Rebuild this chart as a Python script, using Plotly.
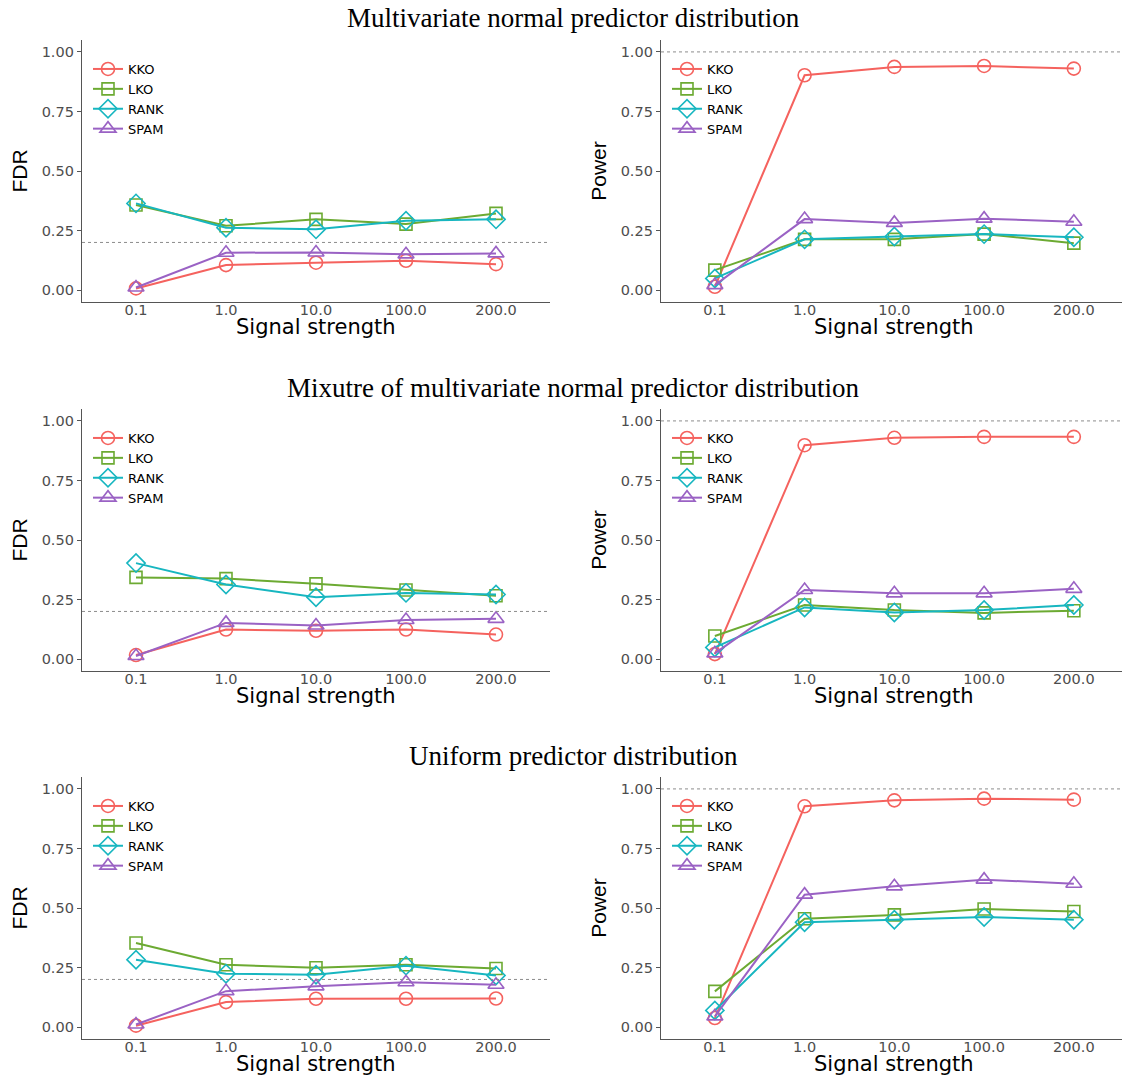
import plotly.graph_objects as go

# ---------------- data ----------------
signal = ["0.1", "1.0", "10.0", "100.0", "200.0"]
methods = ["KKO", "LKO", "RANK", "SPAM"]

# Multivariate normal
normal_fdr_kko = [0.007, 0.105, 0.115, 0.123, 0.109]
normal_fdr_lko = [0.357, 0.270, 0.297, 0.277, 0.322]
normal_fdr_rank = [0.364, 0.262, 0.255, 0.291, 0.297]
normal_fdr_spam = [0.011, 0.157, 0.158, 0.150, 0.154]

normal_pow_kko = [0.014, 0.902, 0.937, 0.941, 0.930]
normal_pow_lko = [0.084, 0.213, 0.213, 0.235, 0.197]
normal_pow_rank = [0.049, 0.213, 0.225, 0.235, 0.222]
normal_pow_spam = [0.021, 0.298, 0.282, 0.300, 0.287]

# Mixture of multivariate normal
mix_fdr_kko = [0.017, 0.124, 0.119, 0.124, 0.103]
mix_fdr_lko = [0.343, 0.338, 0.316, 0.290, 0.266]
mix_fdr_rank = [0.403, 0.313, 0.260, 0.278, 0.271]
mix_fdr_spam = [0.013, 0.152, 0.141, 0.164, 0.169]

mix_pow_kko = [0.021, 0.898, 0.929, 0.933, 0.933]
mix_pow_lko = [0.097, 0.227, 0.206, 0.194, 0.203]
mix_pow_rank = [0.049, 0.217, 0.196, 0.206, 0.227]
mix_pow_spam = [0.024, 0.290, 0.276, 0.276, 0.295]

# Uniform
unif_fdr_kko = [0.006, 0.105, 0.119, 0.119, 0.120]
unif_fdr_lko = [0.353, 0.262, 0.249, 0.262, 0.246]
unif_fdr_rank = [0.283, 0.224, 0.220, 0.258, 0.217]
unif_fdr_spam = [0.011, 0.151, 0.171, 0.188, 0.178]

unif_pow_kko = [0.038, 0.927, 0.952, 0.959, 0.955]
unif_pow_lko = [0.150, 0.455, 0.471, 0.496, 0.485]
unif_pow_rank = [0.070, 0.440, 0.451, 0.462, 0.451]
unif_pow_spam = [0.045, 0.556, 0.591, 0.619, 0.602]

titles = [
    "Multivariate normal predictor distribution",
    "Mixutre of multivariate normal predictor distribution",
    "Uniform predictor distribution",
]
y_titles = ["FDR", "Power"]
x_title = "Signal strength"
fdr_target = 0.2
power_target = 1.0

# ---------------- style ----------------
W, H = 1122, 1076
colors = {"KKO": "#F5625E", "LKO": "#6CAA32", "RANK": "#17B6C0", "SPAM": "#9A62C4"}
symbols = {"KKO": "circle-open", "LKO": "square-open", "RANK": "diamond-open", "SPAM": "triangle-up-open"}
msizes = {"KKO": 13, "LKO": 12, "RANK": 14, "SPAM": 14}

panels = [
    (normal_fdr_kko, normal_fdr_lko, normal_fdr_rank, normal_fdr_spam),
    (normal_pow_kko, normal_pow_lko, normal_pow_rank, normal_pow_spam),
    (mix_fdr_kko, mix_fdr_lko, mix_fdr_rank, mix_fdr_spam),
    (mix_pow_kko, mix_pow_lko, mix_pow_rank, mix_pow_spam),
    (unif_fdr_kko, unif_fdr_lko, unif_fdr_rank, unif_fdr_spam),
    (unif_pow_kko, unif_pow_lko, unif_pow_rank, unif_pow_spam),
]

# pixel geometry (top, bottom) for rows, (left, right) for columns
rows_px = [(40, 302), (409, 671), (777, 1039)]
cols_px = [(82, 550), (661, 1122)]
spacing = [90.0, 89.75]
xtitle_center = [316, 894]

tick_font = dict(family="DejaVu Sans, Liberation Sans, Arial", size=14.5, color="#4D4D4D")
xtitle_font = dict(family="DejaVu Sans, Liberation Sans, Arial", size=21, color="black")
ytitle_font = dict(family="Liberation Sans, Arial", size=21, color="black")
legend_font = dict(family="DejaVu Sans, Liberation Sans, Arial", size=13, color="black")

fig = go.Figure()
layout = dict(
    width=W, height=H,
    margin=dict(l=0, r=0, t=0, b=0),
    paper_bgcolor="white", plot_bgcolor="white",
    showlegend=True,
)
shapes = []
annotations = []

for i, series in enumerate(panels):
    r, c = divmod(i, 2)
    n = i + 1
    xa = "x" if n == 1 else f"x{n}"
    ya = "y" if n == 1 else f"y{n}"
    lg = "legend" if n == 1 else f"legend{n}"
    top, bot = rows_px[r]
    left, right = cols_px[c]
    span = (right - left) / spacing[c]

    for m, vals in zip(methods, series):
        fig.add_trace(go.Scatter(
            x=signal, y=vals, mode="lines+markers", name=m,
            line=dict(color=colors[m], width=2),
            marker=dict(symbol=symbols[m], size=msizes[m], color=colors[m],
                        line=dict(width=1.6, color=colors[m])),
            xaxis=xa, yaxis=ya, legend=lg, showlegend=True,
        ))

    axis_common = dict(
        showline=True, linecolor="#555555", linewidth=1.3,
        showgrid=False, zeroline=False, tickfont=tick_font,
    )
    layout["xaxis" if n == 1 else f"xaxis{n}"] = dict(
        axis_common,
        domain=[left / W, right / W],
        anchor=ya, type="category",
        categoryorder="array", categoryarray=signal,
        range=[-0.6, -0.6 + span],
        ticks="", ticklabelstandoff=-6,
    )
    layout["yaxis" if n == 1 else f"yaxis{n}"] = dict(
        axis_common,
        domain=[1 - bot / H, 1 - top / H],
        anchor=xa, range=[-0.05, 1.05],
        ticks="outside", ticklen=4, tickcolor="#555555", tickwidth=1,
        tickvals=[0, 0.25, 0.5, 0.75, 1.0], tickformat=".2f",
        title=dict(text=y_titles[c], font=ytitle_font, standoff=8),
    )
    layout[lg] = dict(
        x=(left + 6) / W, y=1 - (top + 59) / H,
        xanchor="left", yanchor="middle",
        bgcolor="rgba(0,0,0,0)", borderwidth=0,
        font=legend_font, tracegroupgap=0, itemwidth=30,
    )
    target = fdr_target if c == 0 else power_target
    shapes.append(dict(
        type="line", xref=f"{xa} domain", yref=ya,
        x0=0, x1=1, y0=target, y1=target,
        line=dict(color="#8C8C8C", width=1, dash="3px,3px"),
    ))
    # x axis title
    annotations.append(dict(
        text=x_title, x=xtitle_center[c] / W, y=1 - (bot + 25) / H,
        xref="paper", yref="paper", xanchor="center", yanchor="middle",
        showarrow=False, font=xtitle_font,
    ))

title_y = [18, 388, 756]
for t, ty in zip(titles, title_y):
    annotations.append(dict(
        text=t, x=573 / W, y=1 - ty / H, xref="paper", yref="paper",
        xanchor="center", yanchor="middle", showarrow=False,
        font=dict(family="Liberation Serif, Times New Roman, serif", size=27, color="black"),
    ))

layout["shapes"] = shapes
layout["annotations"] = annotations
fig.update_layout(**layout)

fig.write_html(
    "out.html",
    config={"displayModeBar": False, "responsive": False},
    post_script="document.body.style.margin='0';document.body.style.padding='0';",
)
